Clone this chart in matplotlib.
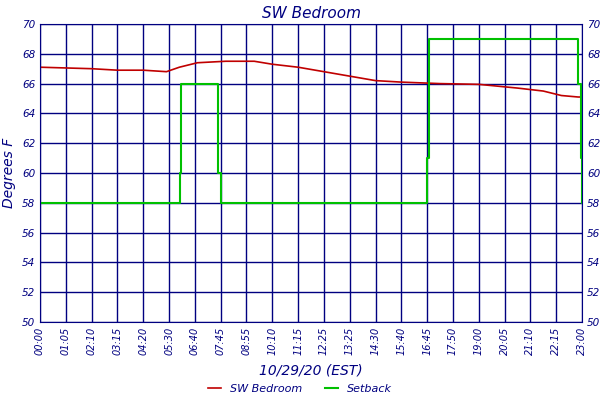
import matplotlib
matplotlib.use("Agg")
import matplotlib.pyplot as plt

labels = ["00:00","01:05","02:10","03:15","04:20","05:30","06:40","07:45","08:55","10:10","11:15",
          "12:25","13:25","14:30","15:40","16:45","17:50","19:00","20:05","21:10","22:15","23:00"]
room_x = [0, 1, 2, 3, 4, 4.9, 5.4, 6.1, 7.2, 8.3, 9.0, 10.0, 11.0, 12.0, 13.0, 14.0, 15.5, 17.0, 18.5, 19.5, 20.2, 20.85, 21.0]
room_y = [67.1, 67.05, 67.0, 66.9, 66.9, 66.8, 67.1, 67.4, 67.5, 67.5, 67.3, 67.1, 66.8, 66.5, 66.2, 66.1, 66.0, 65.95, 65.7, 65.5, 65.2, 65.1, 65.1]
set_x = [0, 5.35, 5.42, 5.48, 6.85, 6.9, 7.0, 14.95, 15.0, 15.08, 20.8, 20.85, 20.95, 21.0]
set_y = [58, 58, 60, 66, 66, 60, 58, 58, 61, 69, 69, 66, 61, 58]

navy = "#000080"
fig = plt.figure(figsize=(6, 4), dpi=100)
ax = fig.add_axes([40/600, 1-322/400, 542/600, 298/400])
ax.plot(room_x, room_y, color="#c00000", lw=1.2, label="SW Bedroom")
ax.step(set_x, set_y, where="post", color="#00c000", lw=1.5, label="Setback")
ax.set_xlim(0, 21)
ax.set_ylim(50, 70)
ax.set_xticks(range(22))
ax.set_xticklabels(labels, rotation=90, fontsize=7, style="italic", color=navy)
ax.set_yticks(range(50, 71, 2))
ax.tick_params(axis="y", labelsize=7.5, labelcolor=navy, right=True, labelright=True, length=0)
ax.tick_params(axis="x", length=0)
for lab in ax.get_yticklabels():
    lab.set_style("italic")
ax.grid(True, color=navy, lw=1)
for s in ax.spines.values():
    s.set_color(navy)
ax.set_axisbelow(True)
ax.set_title("SW Bedroom", fontsize=11, style="italic", color=navy, pad=4)
ax.set_ylabel("Degrees F", fontsize=10, style="italic", color=navy, labelpad=4)
ax.set_xlabel("10/29/20 (EST)", fontsize=10, style="italic", color=navy, labelpad=6)
leg = fig.legend(loc="lower center", ncol=2, frameon=False, fontsize=8, bbox_to_anchor=(0.5, -0.01),
                 handlelength=1.2)
for t in leg.get_texts():
    t.set_color(navy); t.set_style("italic")
fig.savefig("out.png", dpi=100)
